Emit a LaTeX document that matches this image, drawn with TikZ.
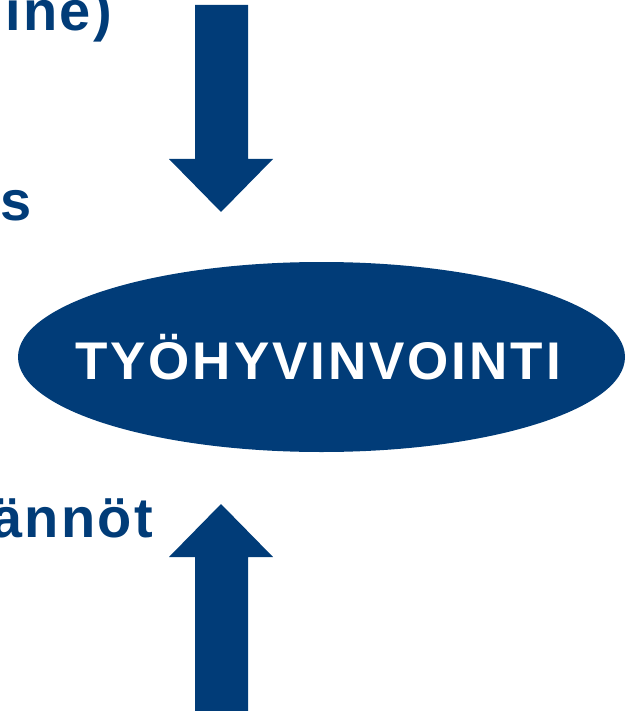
\documentclass[tikz,border=0pt]{standalone}
\usepackage{fontspec}
\setmainfont{Liberation Sans}
\usepackage{tikz}
\usetikzlibrary{shapes.geometric}
\definecolor{tyoblue}{RGB}{1,60,120}

\tikzset{
  sidetext/.style={anchor=base east, inner sep=0pt, text=tyoblue,
    font=\fontsize{56}{56}\selectfont\bfseries\addfontfeatures{LetterSpace=4}},
  ovaltext/.style={inner sep=0pt, text=white,
    font=\fontsize{53}{53}\selectfont\bfseries\addfontfeatures{LetterSpace=5.5}}
}

\begin{document}
\begin{tikzpicture}[x=1pt,y=1pt,yscale=-1,xscale=1]
\useasboundingbox (0,0) rectangle (630,711);
\clip (0,0) rectangle (630,711);
%Ellipse
\fill[tyoblue] (321.5,357) ellipse [x radius=303.5, y radius=95];
% Text Node
\node (tyohyvinvointi) [ovaltext] at (318,357) {TYÖHYVINVOINTI};
%Down Arrow
\fill[tyoblue] (195,5) -- (248,5) -- (248,159) -- (273,159) -- (221,212) -- (169,159) -- (195,159) -- cycle ;
%Up Arrow
\fill[tyoblue] (195,711) -- (248,711) -- (248,557) -- (273,557) -- (221,504) -- (169,557) -- (195,557) -- cycle ;
% Text Node
\node (ine) [sidetext] at (112,31) {ine)};
% Text Node
\node (s) [sidetext] at (32,221) {s};
% Text Node
\node (annot) [sidetext] at (153,537) {ännöt};
\end{tikzpicture}
\end{document}
